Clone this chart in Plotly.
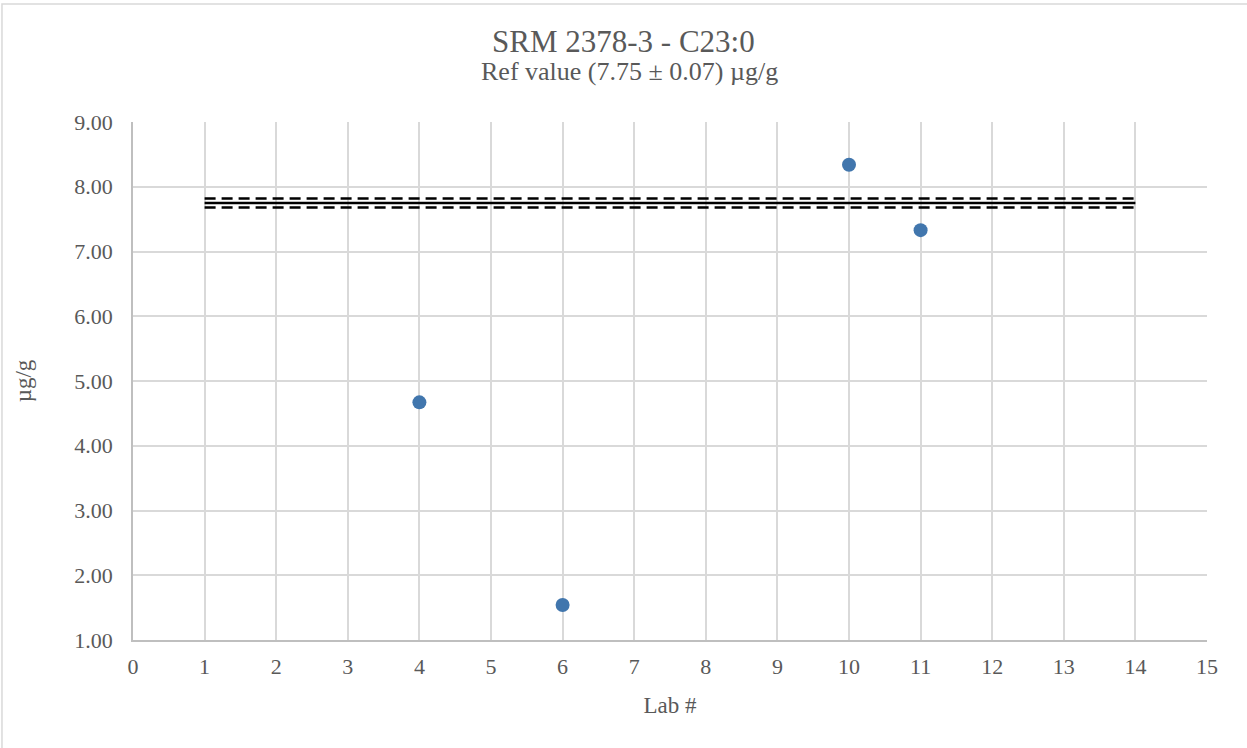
import plotly.graph_objects as go

# lab results (ug/g)
labs = [4, 6, 10, 11]
values = [4.67, 1.54, 8.34, 7.33]

# reference value and uncertainty band, drawn from lab 1 to lab 14
ref_x = [1, 14]
ref_value = 7.75
ref_unc = 0.07

FONT = "Liberation Serif, Times New Roman, serif"
GREY = "#595959"

fig = go.Figure()
fig.add_trace(go.Scatter(
    x=ref_x, y=[ref_value + ref_unc] * 2, mode="lines",
    line=dict(color="black", width=2.5, dash="11px,6px"), showlegend=False,
))
fig.add_trace(go.Scatter(
    x=ref_x, y=[ref_value] * 2, mode="lines",
    line=dict(color="black", width=2.5), showlegend=False,
))
fig.add_trace(go.Scatter(
    x=ref_x, y=[ref_value - ref_unc] * 2, mode="lines",
    line=dict(color="black", width=2.5, dash="11px,6px"), showlegend=False,
))
fig.add_trace(go.Scatter(
    x=labs, y=values, mode="markers",
    marker=dict(color="#4176AD", size=14), showlegend=False,
))

# outer chart border (Excel-style)
fig.add_shape(type="rect", xref="paper", yref="paper",
              x0=-0.122, x1=1.1, y0=-0.3, y1=1.228,
              line=dict(color="#d9d9d9", width=1.5), layer="below")

# title + subtitle, centred on the whole chart area
cx = (623.5 - 133) / 1074
fig.add_annotation(text="SRM 2378-3 - C23:0", xref="paper", yref="paper",
                   x=cx, y=1.155, xanchor="center", yanchor="middle",
                   showarrow=False, font=dict(size=31, color=GREY, family=FONT))
fig.add_annotation(text="Ref value (7.75 ± 0.07) µg/g", xref="paper", yref="paper",
                   x=cx + 0.006, y=1.097, xanchor="center", yanchor="middle",
                   showarrow=False, font=dict(size=26, color=GREY, family=FONT))

fig.update_layout(
    width=1247, height=748,
    margin=dict(l=133, r=40, t=122, b=108),
    plot_bgcolor="white", paper_bgcolor="white",
    font=dict(family=FONT, color=GREY, size=22),
)
fig.update_xaxes(
    range=[0, 15], dtick=1, tick0=0,
    showgrid=True, gridcolor="#d9d9d9", gridwidth=1.5,
    zeroline=False, showline=True, linecolor="#bfbfbf", linewidth=1.5,
    ticks="", ticklabelstandoff=6,
    title=dict(text="Lab #", font=dict(size=23, color=GREY), standoff=19),
)
fig.update_yaxes(
    range=[1, 9], dtick=1, tickformat=".2f",
    showgrid=True, gridcolor="#d9d9d9", gridwidth=1.5,
    zeroline=False, showline=True, linecolor="#bfbfbf", linewidth=1.5,
    ticks="", ticklabelstandoff=14,
    title=dict(text="µg/g", font=dict(size=23, color=GREY), standoff=36),
)

fig.write_html("out.html", config={"displayModeBar": False},
               post_script="document.body.style.margin='0';")
